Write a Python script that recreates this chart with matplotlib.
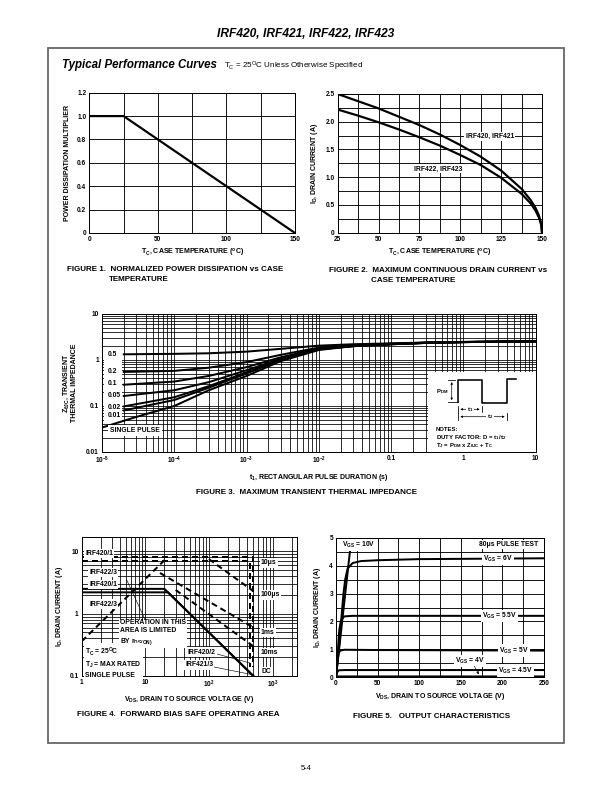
import matplotlib
matplotlib.use('Agg')
import matplotlib.pyplot as plt
import numpy as np
from matplotlib.lines import Line2D
from matplotlib.patches import Rectangle, FancyArrowPatch

plt.rcParams['font.family'] = ['Liberation Sans', 'DejaVu Sans']
plt.rcParams['font.weight'] = 'bold'
plt.rcParams['axes.labelweight'] = 'bold'
plt.rcParams['mathtext.default'] = 'regular'

# ---------------- data ----------------
# Figure 1: normalized power dissipation
fig1_temp = [0, 25, 150]
fig1_mult = [1.0, 1.0, 0.0]

# Figure 2: max continuous drain current vs case temperature
fig2_temp = [25, 37.5, 50, 62.5, 75, 87.5, 100, 112.5, 125, 137.5, 143, 146, 148, 149, 149.6, 150]
fig2_irf420 = [2.5, 2.37, 2.24, 2.09, 1.94, 1.77, 1.58, 1.37, 1.12, 0.79, 0.59, 0.45, 0.32, 0.22, 0.14, 0.0]
fig2_irf422 = [2.22, 2.11, 1.99, 1.86, 1.72, 1.57, 1.40, 1.22, 0.99, 0.70, 0.53, 0.40, 0.28, 0.20, 0.13, 0.0]

# Figure 3: transient thermal impedance
fig3_t_duty = [2e-5, 1e-4, 3e-4, 1e-3, 3e-3, 1e-2, 3e-2, 0.1, 0.3, 1, 3, 10]
fig3_z = {
    '0.5':  [1.33, 1.36, 1.40, 1.52, 1.75, 2.05, 2.20, 2.30, 2.40, 2.48, 2.52, 2.55],
    '0.2':  [0.55, 0.58, 0.68, 0.90, 1.30, 1.86, 2.10, 2.26, 2.38, 2.46, 2.50, 2.55],
    '0.1':  [0.29, 0.34, 0.45, 0.70, 1.15, 1.78, 2.05, 2.23, 2.37, 2.46, 2.50, 2.55],
    '0.05': [0.165, 0.22, 0.33, 0.60, 1.07, 1.74, 2.03, 2.22, 2.36, 2.45, 2.50, 2.55],
    '0.02': [0.098, 0.155, 0.27, 0.54, 1.03, 1.72, 2.01, 2.20, 2.35, 2.45, 2.50, 2.55],
    '0.01': [0.080, 0.135, 0.25, 0.51, 1.01, 1.71, 2.00, 2.20, 2.35, 2.45, 2.50, 2.55],
}
fig3_label_y = {'0.5': 1.35, '0.2': 0.557, '0.1': 0.31, '0.05': 0.173, '0.02': 0.094, '0.01': 0.062}
fig3_t_single = [1e-5, 3e-5, 1e-4, 3e-4, 1e-3, 3e-3, 1e-2, 3e-2, 0.1, 0.3, 1, 3, 10]
fig3_z_single = [0.034, 0.058, 0.10, 0.22, 0.45, 0.95, 1.65, 2.0, 2.2, 2.35, 2.45, 2.5, 2.55]

# Figure 4: forward bias safe operating area
fig4_rds_v = [1, 20]
fig4_rds_i = [0.36, 7.2]
fig4_10us_a_v = [1, 480, 500, 500]
fig4_10us_a_i = [8.0, 8.0, 8.0, 0.14]
fig4_10us_b_v = [1, 430, 450, 450]
fig4_10us_b_i = [7.0, 7.0, 7.0, 0.14]
fig4_100us_v = [100, 500]
fig4_100us_i = [7.5, 2.3]
fig4_1ms_v = [17, 500]
fig4_1ms_i = [4.5, 0.6]
fig4_10ms_v = [30, 500]
fig4_10ms_i = [2.4, 0.3]
fig4_dc_a_v = [1, 20, 500]
fig4_dc_a_i = [2.5, 2.5, 0.1]
fig4_dc_b_v = [1, 22.7, 500]
fig4_dc_b_i = [2.2, 2.2, 0.1]

# Figure 5: output characteristics
fig5_v10_vds = [0, 5, 10, 15, 19]
fig5_v10_id = [0, 1.35, 2.7, 4.05, 5.1]
fig5_v6_vds = [0, 4, 7, 9, 11, 14, 20, 30, 50, 100, 250]
fig5_v6_id = [0, 1.2, 2.3, 3.0, 3.5, 3.9, 4.1, 4.17, 4.2, 4.24, 4.27]
fig5_v55_vds = [0, 2, 3, 4, 6, 10, 20, 250]
fig5_v55_id = [0, 0.8, 1.3, 1.7, 2.05, 2.18, 2.2, 2.2]
fig5_v5_vds = [0, 1.5, 3, 5, 10, 50, 250]
fig5_v5_id = [0, 0.5, 0.85, 0.95, 0.98, 0.97, 0.95]
fig5_v45_vds = [0, 1, 3, 10, 250]
fig5_v45_id = [0, 0.15, 0.24, 0.25, 0.25]
fig5_v4_vds = [0, 2, 250]
fig5_v4_id = [0, 0.02, 0.02]

# ---------------- layout helpers ----------------
W, H = 612, 792
fig = plt.figure(figsize=(W / 72, H / 72), dpi=72)


def box(l, t, r, b):
    return [l / W, 1 - b / H, (r - l) / W, (b - t) / H]


def ftext(x, y, s, **kw):
    kw.setdefault('va', 'center')
    fig.text(x / W, 1 - y / H, s, **kw)


def fline(xs, ys, **kw):
    fig.add_artist(Line2D([x / W for x in xs], [1 - y / H for y in ys], transform=fig.transFigure, **kw))


TS = 6.5     # tick labels
LS = 7.0     # axis labels
AS = 6.8     # annotations in plots
NS = 6.0     # notes text
CS = 8.0     # captions
WB = dict(facecolor='white', edgecolor='none', pad=1.0)

# page frame
fig.add_artist(Rectangle((47.7 / W, 1 - 743 / H), (563.7 - 47.7) / W, (743 - 48) / H,
                         transform=fig.transFigure, fill=False, edgecolor='#666666', lw=1.8))
ftext(306, 34, 'IRF420, IRF421, IRF422, IRF423', ha='center', fontsize=12, style='italic')
ftext(62, 65, 'Typical Performance Curves', ha='left', fontsize=11.5, style='italic')
ftext(224, 66, 'T$_C$ = 25$^O$C Unless Otherwise Specified', ha='left', fontsize=8, fontweight='normal')
ftext(306, 768, '5-4', ha='center', fontsize=7.5, fontweight='normal')


def style(ax):
    ax.tick_params(which='both', length=0, labelsize=TS, pad=3)
    ax.set_axisbelow(True)
    for s in ax.spines.values():
        s.set_linewidth(1.0)


# ---------------- Figure 1 ----------------
ax1 = fig.add_axes(box(89.3, 92.7, 295, 233))
ax1.plot(fig1_temp, fig1_mult, color='black', lw=2.2)
ax1.set_xlim(0, 150)
ax1.set_ylim(0, 1.2)
ax1.set_xticks([0, 50, 100, 150])
ax1.set_xticks([25, 75, 125], minor=True)
ax1.set_yticks([0, 0.2, 0.4, 0.6, 0.8, 1.0, 1.2])
ax1.set_yticklabels(['0', '0.2', '0.4', '0.6', '0.8', '1.0', '1.2'])
ax1.grid(True, which='both', color='black', lw=0.9)
style(ax1)
ax1.set_xlabel('T$_C$, CASE TEMPERATURE ($^o$C)', fontsize=LS, labelpad=4)
ax1.set_ylabel('POWER DISSIPATION MULTIPLIER', fontsize=LS, labelpad=6)
ftext(67.3, 270, 'FIGURE 1.  NORMALIZED POWER DISSIPATION vs CASE', ha='left', fontsize=CS)
ftext(109.3, 279.5, 'TEMPERATURE', ha='left', fontsize=CS)

# ---------------- Figure 2 ----------------
ax2 = fig.add_axes(box(337.7, 94, 542, 232.7))
ax2.plot(fig2_temp, fig2_irf420, color='black', lw=2.2)
ax2.plot(fig2_temp, fig2_irf422, color='black', lw=2.2)
ax2.set_xlim(25, 150)
ax2.set_ylim(0, 2.5)
ax2.set_xticks([25, 50, 75, 100, 125, 150])
ax2.set_xticks([37.5, 62.5, 87.5, 112.5, 137.5], minor=True)
ax2.set_yticks([0, 0.5, 1.0, 1.5, 2.0, 2.5])
ax2.set_yticklabels(['0', '0.5', '1.0', '1.5', '2.0', '2.5'])
ax2.set_yticks([0.25, 0.75, 1.25, 1.75, 2.25], minor=True)
ax2.grid(True, which='both', color='black', lw=0.9)
style(ax2)
ax2.set_xlabel('T$_C$, CASE TEMPERATURE ($^o$C)', fontsize=LS, labelpad=4)
ax2.set_ylabel('I$_D$, DRAIN CURRENT (A)', fontsize=LS, labelpad=6)
ax2.text(118, 1.73, 'IRF420, IRF421', fontsize=AS, ha='center', va='center', bbox=WB, zorder=5)
ax2.text(86.5, 1.15, 'IRF422, IRF423', fontsize=AS, ha='center', va='center', bbox=WB, zorder=5)
ftext(329, 271, 'FIGURE 2.  MAXIMUM CONTINUOUS DRAIN CURRENT vs', ha='left', fontsize=CS)
ftext(371, 280.5, 'CASE TEMPERATURE', ha='left', fontsize=CS)

# ---------------- Figure 3 ----------------
ax3 = fig.add_axes(box(102, 314, 535.7, 452))
ax3.set_xscale('log')
ax3.set_yscale('log')
ax3.set_xlim(1e-5, 10)
ax3.set_ylim(0.01, 10)
ax3.grid(True, which='both', color='black', lw=0.8)
style(ax3)
ax3.add_patch(Rectangle((1.05e-5, 0.045), 0.85e-5, 1.65, facecolor='white', edgecolor='none', zorder=1))
for key, vals in fig3_z.items():
    ax3.plot(fig3_t_duty, vals, color='black', lw=2.0, zorder=2)
    ax3.text(1.2e-5, fig3_label_y[key], key, fontsize=AS, ha='left', va='center', bbox=WB, zorder=4)
ax3.plot(fig3_t_single, fig3_z_single, color='black', lw=2.0, zorder=2)
ax3.text(1.3e-5, 0.029, 'SINGLE PULSE', fontsize=AS, ha='left', va='center',
         bbox=dict(facecolor='white', edgecolor='none', pad=2.0), zorder=4)
ax3.set_xticks([1e-5, 1e-4, 1e-3, 1e-2, 0.1, 1, 10])
ax3.set_xticklabels(['$10^{-5}$', '$10^{-4}$', '$10^{-3}$', '$10^{-2}$', '0.1', '1', '10'])
ax3.set_yticks([0.01, 0.1, 1, 10])
ax3.set_yticklabels(['0.01', '0.1', '1', '10'])
ax3.xaxis.set_minor_formatter(matplotlib.ticker.NullFormatter())
ax3.yaxis.set_minor_formatter(matplotlib.ticker.NullFormatter())
ax3.set_xlabel('t$_1$, RECTANGULAR PULSE DURATION (s)', fontsize=LS, labelpad=6)
ax3.set_ylabel('Z$_{θJC}$, TRANSIENT\nTHERMAL IMPEDANCE', fontsize=LS, labelpad=8, linespacing=1.1)
# notes box
ax3.add_patch(Rectangle((0.752, 0.0), 0.248, 0.58, transform=ax3.transAxes,
                        facecolor='white', edgecolor='none', zorder=3))
fline([458.3, 458.3, 481.7, 481.7, 506.7, 506.7, 516], [402.3, 380, 380, 403.3, 403.3, 379, 379],
      color='black', lw=1.6, zorder=6)
fline([448.3, 455], [380, 380], color='black', lw=0.8, zorder=6)
fline([448.3, 458.3], [402.3, 402.3], color='black', lw=0.8, zorder=6)
for (xa, ya, xb, yb) in [(451.7, 380, 451.7, 402.3), (458.3, 409.3, 481.7, 409.3), (458.3, 416.7, 506.7, 416.7)]:
    fig.add_artist(FancyArrowPatch((xa / W, 1 - ya / H), (xb / W, 1 - yb / H), transform=fig.transFigure,
                                   arrowstyle='<|-|>', mutation_scale=4, color='black', lw=0.7, zorder=6))
fline([458.3, 458.3], [406, 420], color='black', lw=0.8, zorder=6)
fline([481.7, 481.7], [406, 412], color='black', lw=0.8, zorder=6)
fline([506.7, 506.7], [413, 420], color='black', lw=0.8, zorder=6)
ftext(448, 391.7, 'P$_{DM}$', ha='right', fontsize=NS, zorder=7)
ftext(470, 409.3, 't$_1$', ha='center', fontsize=NS, zorder=7, bbox=WB)
ftext(490, 416.7, 't$_2$', ha='center', fontsize=NS, zorder=7, bbox=WB)
ftext(435.7, 429.5, 'NOTES:', ha='left', fontsize=NS, zorder=7)
ftext(435.7, 437.3, 'DUTY FACTOR: D = t$_1$/t$_2$', ha='left', fontsize=NS, zorder=7)
ftext(435.7, 445.3, 'T$_J$ = P$_{DM}$ x Z$_{θJC}$ + T$_C$', ha='left', fontsize=NS, zorder=7)
ftext(306, 492, 'FIGURE 3.  MAXIMUM TRANSIENT THERMAL IMPEDANCE', ha='center', fontsize=CS)

# ---------------- Figure 4 ----------------
ax4 = fig.add_axes(box(81.7, 537, 296.7, 676))
ax4.set_xscale('log')
ax4.set_yscale('log')
ax4.set_xlim(1, 2400)
ax4.set_ylim(0.1, 17)
ax4.grid(True, which='both', color='black', lw=0.8)
style(ax4)
dash = dict(color='black', lw=2.0, ls=(0, (3, 2)))
ax4.plot(fig4_rds_v, fig4_rds_i, **dash)
ax4.plot(fig4_10us_a_v, fig4_10us_a_i, **dash)
ax4.plot(fig4_10us_b_v, fig4_10us_b_i, **dash)
ax4.plot(fig4_100us_v, fig4_100us_i, **dash)
ax4.plot(fig4_1ms_v, fig4_1ms_i, **dash)
ax4.plot(fig4_10ms_v, fig4_10ms_i, **dash)
ax4.plot(fig4_dc_a_v, fig4_dc_a_i, color='black', lw=2.0)
ax4.plot(fig4_dc_b_v, fig4_dc_b_i, color='black', lw=2.0)
ax4.set_xticks([1, 10, 100, 1000])
ax4.set_xticklabels(['1', '10', '$10^2$', '$10^3$'])
ax4.set_yticks([0.1, 1, 10])
ax4.set_yticklabels(['0.1', '1', '10'])
ax4.xaxis.set_minor_formatter(matplotlib.ticker.NullFormatter())
ax4.yaxis.set_minor_formatter(matplotlib.ticker.NullFormatter())
ax4.set_xlabel('V$_{DS}$, DRAIN TO SOURCE VOLTAGE (V)', fontsize=LS, labelpad=4)
ax4.set_ylabel('I$_D$, DRAIN CURRENT (A)', fontsize=LS, labelpad=5)
for (x, y, s) in [(85, 553.3, 'IRF420/1'), (89, 572.7, 'IRF422/3'), (89, 584.3, 'IRF420/1'), (89, 604, 'IRF422/3')]:
    ftext(x, y, s, ha='left', fontsize=AS, bbox=WB, zorder=7)
ftext(120, 633, 'OPERATION IN THIS\nAREA IS LIMITED\nBY r$_{DS(ON)}$', ha='left', fontsize=AS,
      linespacing=1.3, bbox=WB, zorder=7)
ftext(85, 662, 'T$_C$ = 25$^O$C\nT$_J$ = MAX RATED\nSINGLE PULSE', ha='left', fontsize=AS,
      linespacing=1.3, bbox=WB, zorder=7)
ftext(188, 652, 'IRF420/2', ha='left', fontsize=AS, bbox=WB, zorder=7)
ftext(185, 665, 'IRF421/3', ha='left', fontsize=AS, bbox=WB, zorder=7)
fline([126.7, 146.7], [580, 623], color='black', lw=0.6, zorder=6)
fline([217, 250], [654, 663], color='black', lw=0.6, zorder=6)
fline([214, 254], [667, 675], color='black', lw=0.6, zorder=6)
for (y, s) in [(563, '10μs'), (595, '100μs'), (632.7, '1ms'), (652.7, '10ms'), (671.7, 'DC')]:
    ftext(261, y, s, ha='left', fontsize=AS, bbox=WB, zorder=7)
ftext(178, 715, 'FIGURE 4.  FORWARD BIAS SAFE OPERATING AREA', ha='center', fontsize=CS)

# ---------------- Figure 5 ----------------
ax5 = fig.add_axes(box(336, 538, 544, 677))
for vx, vy in [(fig5_v10_vds, fig5_v10_id), (fig5_v6_vds, fig5_v6_id), (fig5_v55_vds, fig5_v55_id),
               (fig5_v5_vds, fig5_v5_id), (fig5_v45_vds, fig5_v45_id), (fig5_v4_vds, fig5_v4_id)]:
    ax5.plot(vx, vy, color='black', lw=2.0)
ax5.set_xlim(0, 250)
ax5.set_ylim(0, 5)
ax5.set_xticks([0, 50, 100, 150, 200, 250])
ax5.set_xticks([25, 75, 125, 175, 225], minor=True)
ax5.set_yticks([0, 1, 2, 3, 4, 5])
ax5.set_yticks([0.5, 1.5, 2.5, 3.5, 4.5], minor=True)
ax5.grid(True, which='both', color='black', lw=0.9)
style(ax5)
ax5.set_xlabel('V$_{DS}$, DRAIN TO SOURCE VOLTAGE (V)', fontsize=LS, labelpad=4)
ax5.set_ylabel('I$_D$, DRAIN CURRENT (A)', fontsize=LS, labelpad=6)
ax5.text(27.6, 4.76, 'V$_{GS}$ = 10V', fontsize=AS, ha='center', va='center', bbox=WB, zorder=5)
ax5.text(242.8, 4.76, '80μs PULSE TEST', fontsize=AS, ha='right', va='center', bbox=WB, zorder=5)
ax5.text(194.8, 4.25, 'V$_{GS}$ = 6V', fontsize=AS, ha='center', va='center', bbox=WB, zorder=5)
ax5.text(196.8, 2.2, 'V$_{GS}$ = 5.5V', fontsize=AS, ha='center', va='center', bbox=WB, zorder=5)
ax5.text(214, 0.95, 'V$_{GS}$ = 5V', fontsize=AS, ha='center', va='center', bbox=WB, zorder=5)
ax5.text(216, 0.23, 'V$_{GS}$ = 4.5V', fontsize=AS, ha='center', va='center', bbox=WB, zorder=5)
ax5.text(160.8, 0.58, 'V$_{GS}$ = 4V', fontsize=AS, ha='center', va='center', bbox=WB, zorder=5)
ax5.annotate('', xy=(173, 0.03), xytext=(165, 0.45),
             arrowprops=dict(arrowstyle='-|>', color='black', lw=0.6, mutation_scale=5), zorder=5)
ftext(431.7, 716, 'FIGURE 5.   OUTPUT CHARACTERISTICS', ha='center', fontsize=CS)

fig.savefig('out.png', dpi=72, facecolor='white')
